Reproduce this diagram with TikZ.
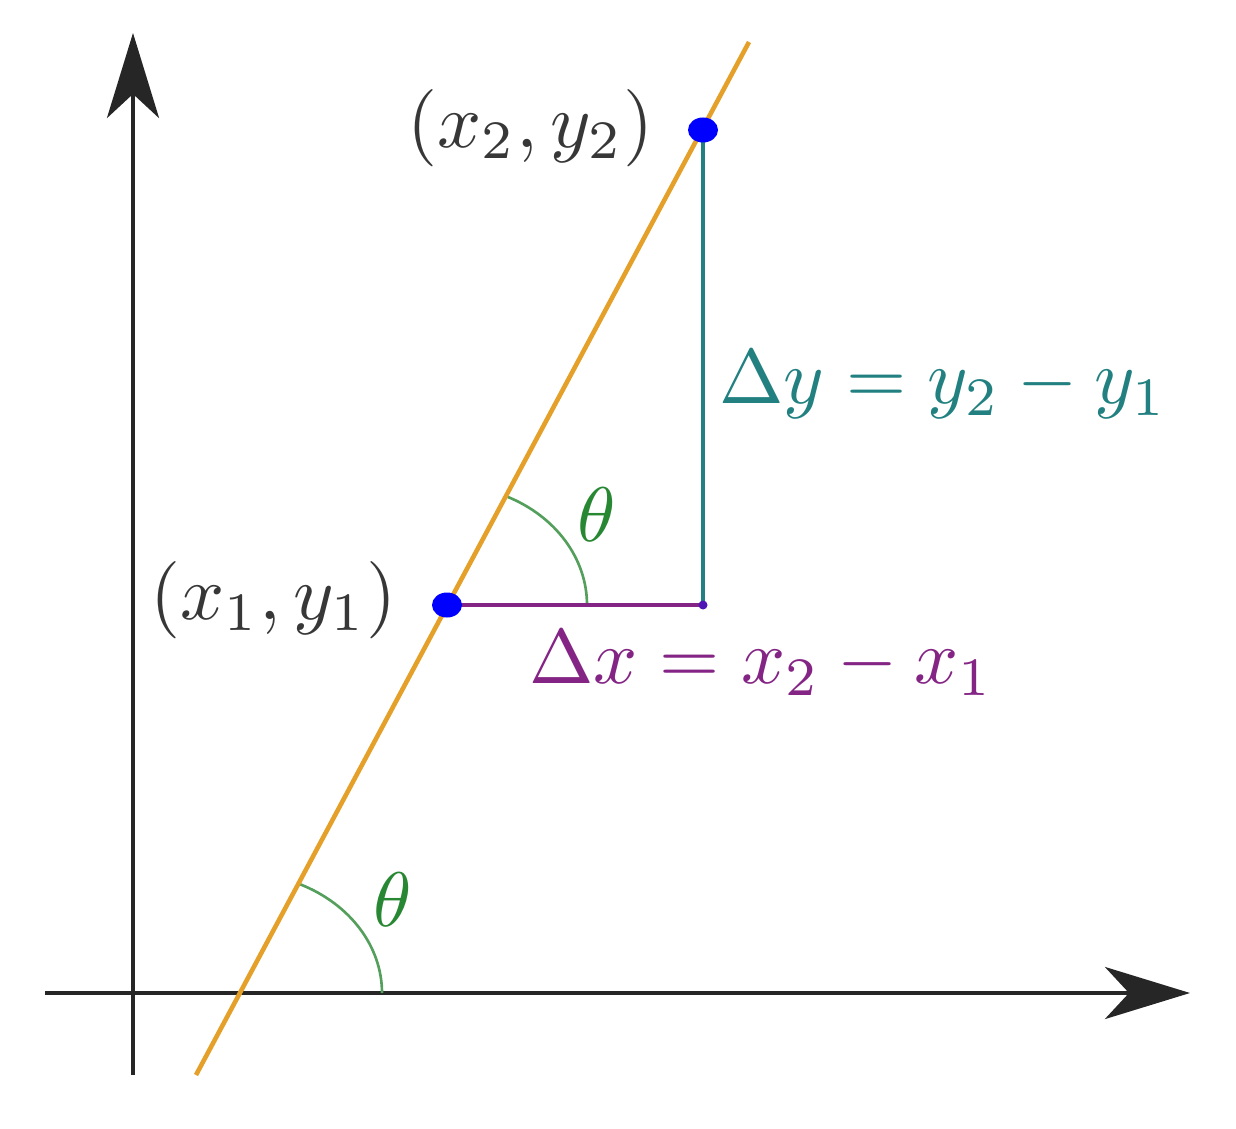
\documentclass[tikz,border=0pt]{standalone}
\usepackage{amsmath,amssymb}
\usepackage{tikz}
\usetikzlibrary{arrows.meta,shapes.geometric}
\pgfdeclarelayer{edgelayer}
\pgfdeclarelayer{nodelayer}
\pgfsetlayers{edgelayer,main,nodelayer}
\definecolor{lorange}{RGB}{228,160,40}
\definecolor{dteal}{RGB}{34,128,128}
\definecolor{dpurple}{RGB}{132,36,132}
\definecolor{dgreen}{RGB}{40,135,50}
\definecolor{dgray}{RGB}{55,55,55}
\tikzstyle{none}=[inner sep=0pt]
\tikzstyle{axis}=[-{Stealth[length=8.5mm,width=5.2mm,inset=2.4mm]},line width=1.3pt,black!85]
\tikzstyle{slopeline}=[lorange,line width=1.3pt]
\tikzstyle{rise}=[dteal,line width=1.3pt]
\tikzstyle{run}=[dpurple,line width=1.3pt]
\tikzstyle{anglearc}=[dgreen!80,line width=0.75pt]
\tikzstyle{pointdot}=[ellipse,fill=blue,inner sep=0pt,minimum width=3mm,minimum height=2.5mm]
\tikzstyle{coordlabel}=[inner sep=0pt,text=dgray,scale=2.2]
\tikzstyle{anglelabel}=[inner sep=0pt,text=dgreen,scale=2.2]

\begin{document}
\begin{tikzpicture}
	\useasboundingbox (0,0) rectangle (12.36,11.28);
	\begin{pgfonlayer}{nodelayer}
		\coordinate (XL) at (0.45,1.35);
		\coordinate (XR) at (11.9,1.35);
		\coordinate (YB) at (1.33,0.53);
		\coordinate (YT) at (1.33,10.95);
		\coordinate (LB) at (1.96,0.53);
		\coordinate (LT) at (7.49,10.86);
		\coordinate (A) at (2.40,1.35);
		\coordinate (C) at (7.03,5.23);
		\node [style=pointdot] (P1) at (4.47,5.23) {};
		\node [style=pointdot] (P2) at (7.03,9.98) {};
		\fill [dpurple!60!blue] (C) circle (0.045);
		\node [style=coordlabel, anchor=east] (p2lab) at (6.55,10.0) {$(x_2,y_2)$};
		\node [style=coordlabel, anchor=east] (p1lab) at (3.98,5.28) {$(x_1,y_1)$};
		\node [style=coordlabel, text=dteal, anchor=west] (dy) at (7.18,7.43) {$\Delta y = y_2 - y_1$};
		\node [style=coordlabel, text=dpurple, anchor=west] (dx) at (5.28,4.65) {$\Delta x = x_2 - x_1$};
		\node [style=anglelabel] (th1) at (3.93,2.28) {$\theta$};
		\node [style=anglelabel] (th2) at (5.97,6.13) {$\theta$};
	\end{pgfonlayer}
	\begin{pgfonlayer}{edgelayer}
		\draw [style=axis] (XL) -- (XR);
		\draw [style=axis] (YB) -- (YT);
		\draw [style=anglearc] ([xshift=1.42cm]A) arc [start angle=0, end angle=65, x radius=1.42, y radius=1.2];
		\draw [style=anglearc] ([xshift=1.40cm]P1.center) arc [start angle=0, end angle=65, x radius=1.40, y radius=1.2];
		\draw [style=slopeline] (LB) -- (LT);
		\draw [style=rise] (P2.center) -- (C);
		\draw [style=run] (P1.center) -- (C);
	\end{pgfonlayer}
\end{tikzpicture}
\end{document}
